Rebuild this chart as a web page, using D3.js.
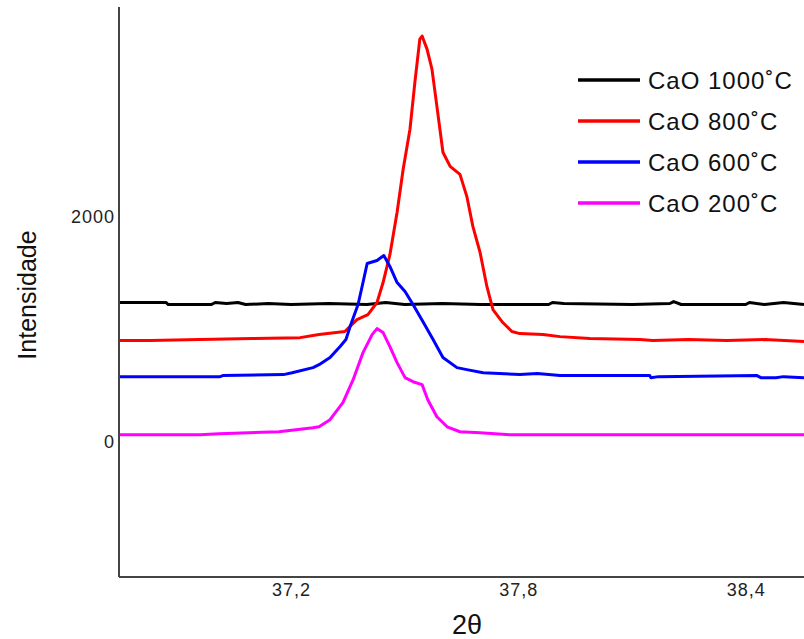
<!DOCTYPE html>
<html>
<head>
<meta charset="utf-8">
<script src="https://cdn.jsdelivr.net/npm/d3@7"></script>
<style>
  html, body { margin: 0; padding: 0; background: #fff; }
  svg { display: block; }
  text { font-family: "Liberation Sans", Arial, sans-serif; }
</style>
</head>
<body>
<svg id="chart" width="804" height="639"></svg>
<script>
// XRD scans of CaO around the (200)-type reflection, [2θ, intensity]
const cao1000 = [
  [36.746,1236],[36.870,1236],[36.876,1218],[36.990,1218],[37.000,1236],[37.030,1227],
  [37.060,1236],[37.080,1218],[37.140,1227],[37.200,1218],[37.300,1227],[37.400,1218],
  [37.450,1236],[37.500,1218],[37.600,1227],[37.700,1218],[37.880,1218],[37.890,1236],
  [37.920,1227],[38.100,1218],[38.200,1227],[38.210,1244],[38.230,1218],[38.400,1218],
  [38.410,1236],[38.450,1218],[38.500,1236],[38.554,1218]
];
const cao800 = [
  [36.746,898],[36.828,898],[36.960,907],[37.097,916],[37.224,924],[37.274,951],
  [37.342,978],[37.374,1084],[37.403,1129],[37.427,1236],[37.443,1413],[37.461,1660],
  [37.480,2036],[37.496,2418],[37.514,2773],[37.527,3191],[37.540,3573],[37.546,3600],
  [37.559,3484],[37.572,3307],[37.585,2978],[37.601,2569],[37.620,2444],[37.646,2373],
  [37.664,2178],[37.680,1911],[37.699,1680],[37.717,1378],[37.733,1173],[37.759,1058],
  [37.783,978],[37.804,960],[37.865,951],[37.910,933],[37.989,916],[38.121,907],
  [38.155,898],[38.250,907],[38.350,898],[38.450,907],[38.554,889]
];
const cao600 = [
  [36.746,578],[37.013,578],[37.020,587],[37.180,596],[37.203,613],[37.258,658],
  [37.274,684],[37.303,747],[37.329,844],[37.345,907],[37.356,1022],[37.377,1218],
  [37.390,1413],[37.401,1582],[37.427,1609],[37.445,1653],[37.461,1556],[37.480,1413],
  [37.501,1333],[37.522,1218],[37.548,1067],[37.575,907],[37.601,747],[37.638,658],
  [37.664,640],[37.707,613],[37.804,596],[37.850,605],[37.880,596],[37.910,587],
  [38.147,587],[38.150,569],[38.170,578],[38.430,587],[38.440,569],[38.480,569],
  [38.500,578],[38.554,569]
];
const cao200 = [
  [36.746,62],[36.960,62],[37.010,71],[37.168,89],[37.258,124],[37.274,133],
  [37.303,196],[37.337,347],[37.364,551],[37.390,791],[37.414,951],[37.427,1004],
  [37.443,969],[37.461,844],[37.480,702],[37.501,569],[37.522,533],[37.546,507],
  [37.561,373],[37.585,222],[37.612,133],[37.646,89],[37.699,80],[37.778,62],
  [38.554,62]
];

const seriesNames = ["CaO 1000˚C", "CaO 800˚C", "CaO 600˚C", "CaO 200˚C"];
const seriesColors = ["#000000", "#ff0000", "#0000ff", "#ff00ff"];
const seriesData = [cao1000, cao800, cao600, cao200];

const xTicks = [37.2, 37.8, 38.4];
const yTicks = [0, 2000];

const svg = d3.select("#chart");
const plotLeft = 119, plotRight = 804, plotTop = 7, plotBottom = 577;

const x = d3.scaleLinear().domain([36.746, 38.554]).range([plotLeft, plotRight]);
const y = d3.scaleLinear().domain([-1200, 3858]).range([plotBottom, plotTop]);

const fmt = d => d3.format(".1f")(d).replace(".", ",");

// series
const line = d3.line().x(d => x(d[0])).y(d => y(d[1])).curve(d3.curveLinear);
svg.append("defs").append("clipPath").attr("id", "plot")
  .append("rect").attr("x", plotLeft).attr("y", plotTop)
  .attr("width", plotRight - plotLeft).attr("height", plotBottom - plotTop);

svg.append("g").attr("clip-path", "url(#plot)")
  .selectAll("path").data(seriesData).join("path")
  .attr("d", line)
  .attr("fill", "none")
  .attr("stroke", (d, i) => seriesColors[i])
  .attr("stroke-width", 3)
  .attr("stroke-linejoin", "round");

// axes
const xAxis = svg.append("g").attr("transform", `translate(0,${plotBottom})`)
  .call(d3.axisBottom(x).tickValues(xTicks).tickFormat(fmt).tickSize(0).tickPadding(6));
const yAxis = svg.append("g").attr("transform", `translate(${plotLeft},0)`)
  .call(d3.axisLeft(y).tickValues(yTicks).tickFormat(d3.format("d")).tickSize(0).tickPadding(4));

[xAxis, yAxis].forEach(g => {
  g.select(".domain").attr("stroke", "#444").attr("stroke-width", 2);
  g.selectAll(".tick text")
    .attr("fill", "#222")
    .style("font-size", "18px")
    .style("letter-spacing", "1px");
});
xAxis.select(".domain").attr("d", `M${plotLeft},0H${plotRight}`);
yAxis.select(".domain").attr("d", `M0,${plotTop}V${plotBottom}`);

// axis titles
svg.append("text")
  .attr("x", 467).attr("y", 634)
  .attr("text-anchor", "middle")
  .style("font-size", "27px")
  .attr("fill", "#111")
  .text("2θ");

svg.append("text")
  .attr("transform", "translate(36,295) rotate(-90)")
  .attr("text-anchor", "middle")
  .style("font-size", "25px")
  .attr("fill", "#111")
  .text("Intensidade");

// legend
const legend = svg.append("g").attr("transform", "translate(578,80)");
const rows = legend.selectAll("g").data(seriesNames).join("g")
  .attr("transform", (d, i) => `translate(0,${i * 41})`);
rows.append("line")
  .attr("x1", 0).attr("x2", 62).attr("y1", 0).attr("y2", 0)
  .attr("stroke", (d, i) => seriesColors[i])
  .attr("stroke-width", 3.5);
rows.append("text")
  .attr("x", 70).attr("y", 9)
  .style("font-size", "24px")
  .style("letter-spacing", "1px")
  .attr("fill", "#111")
  .text(d => d);
</script>
</body>
</html>
